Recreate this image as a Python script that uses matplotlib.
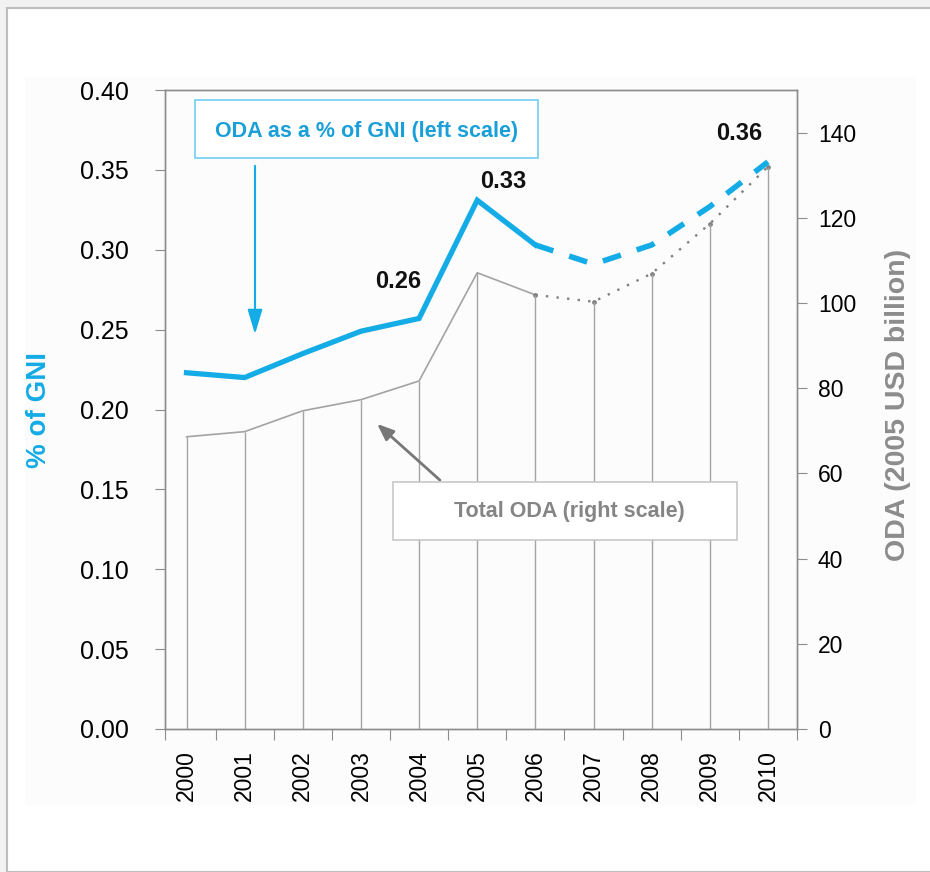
import matplotlib.pyplot as plt
from matplotlib.patches import Rectangle

years = ['2000', '2001', '2002', '2003', '2004', '2005', '2006', '2007', '2008', '2009', '2010']
oda_gni = [0.223, 0.220, 0.235, 0.249, 0.257, 0.331, 0.303, 0.291, 0.303, 0.327, 0.355]
oda_total = [68.6, 69.8, 74.7, 77.3, 81.7, 107.1, 101.9, 100.3, 106.9, 118.6, 132.0]
labels = {4: '0.26', 5: '0.33', 10: '0.36'}
last_actual = 6  # 2006, after this the lines are projections

BLUE = '#13ACE6'
GRAY = '#A3A3A3'
W, H = 930, 872

plt.rcParams['font.family'] = ['Liberation Sans', 'DejaVu Sans']


def fx(px):
    return px / W


def fy(py):
    return 1 - py / H


def main():
    fig = plt.figure(figsize=(W / 100, H / 100), dpi=100, facecolor='#F2F2F2')

    # white slide panel
    fig.patches.append(Rectangle((fx(7), 0), 1, fy(8), transform=fig.transFigure,
                                 facecolor='white', edgecolor='#BDBDBD', lw=1.5,
                                 zorder=-3))
    fig.patches.append(Rectangle((fx(25), fy(805)), fx(891), fy(77) - fy(805),
                                 transform=fig.transFigure, facecolor='#FCFCFC',
                                 edgecolor='none', zorder=-2))

    ax = fig.add_axes([fx(165), fy(729), fx(797 - 165), fy(90) - fy(729)])
    ax.set_facecolor('none')
    ax2 = ax.twinx()

    x = list(range(len(years)))
    n = last_actual + 1

    # total ODA, right scale
    ax2.plot(x[:n], oda_total[:n], color=GRAY, lw=1.2)
    ax2.plot(x[last_actual:], oda_total[last_actual:], color='#808080', lw=1.7,
             linestyle=(0, (1, 3.5)))
    ax2.plot(x[last_actual:], oda_total[last_actual:], 'o', color='#808080', ms=2.4)
    ax2.vlines(x, 0, oda_total, color=GRAY, lw=1.0)
    ax2.set_ylim(0, 150)
    ax2.set_yticks(range(0, 141, 20))

    # ODA as % of GNI, left scale
    ax.plot(x[:n], oda_gni[:n], color=BLUE, lw=3.8, solid_joinstyle='miter')
    ax.plot(x[last_actual:], oda_gni[last_actual:], color=BLUE, lw=4.0,
            dashes=(3.4, 3.0))
    ax.set_ylim(0, 0.40)
    ax.set_yticks([i * 0.05 for i in range(9)])
    ax.set_yticklabels([f'{i * 0.05:.2f}' for i in range(9)])
    ax.set_zorder(ax2.get_zorder() + 1)

    offsets = {4: (-21, 37), 5: (26, 19), 10: (-29, 28)}
    for i, txt in labels.items():
        ax.annotate(txt, (x[i], oda_gni[i]), xytext=offsets[i], textcoords='offset pixels',
                    ha='center', va='center', fontsize=17, fontweight='bold',
                    color='#111111')

    ax.set_xlim(-0.37, 10.5)
    ax.set_xticks([-0.37] + [k + 0.5 for k in range(11)])
    ax.set_xticklabels([])
    ax.set_xticks(x, minor=True)
    ax.set_xticklabels(years, minor=True, rotation=90, fontsize=16.5)
    ax.tick_params(axis='x', which='minor', length=0, pad=15)
    ax.tick_params(axis='x', which='major', length=8, color='#8C8C8C', direction='out')
    ax.tick_params(axis='y', length=7, color='#8C8C8C', labelsize=18, pad=19)
    ax2.tick_params(axis='y', length=7, color='#8C8C8C', labelsize=16.5, pad=8)

    for a in (ax, ax2):
        for s in a.spines.values():
            s.set_color('#8C8C8C')
            s.set_linewidth(1.0)

    fig.text(fx(39), fy(410), '% of GNI', rotation=90, ha='center', va='center',
             color=BLUE, fontsize=20, fontweight='bold')
    fig.text(fx(898), fy(405), 'ODA (2005 USD billion)', rotation=90, ha='center',
             va='center', color='#8C8C8C', fontsize=20.5, fontweight='bold')

    # callout boxes
    fig.patches.append(Rectangle((fx(195), fy(158)), fx(343), fy(100) - fy(158),
                                 transform=fig.transFigure, facecolor='white',
                                 edgecolor='#6FD0F2', lw=1.2, zorder=5))
    fig.text(fx(367), fy(131), 'ODA as a % of GNI (left scale)', ha='center', va='center',
             color='#1B9FD9', fontsize=15.5, fontweight='bold', zorder=6)
    fig.patches.append(Rectangle((fx(393), fy(540)), fx(344), fy(482) - fy(540),
                                 transform=fig.transFigure, facecolor='white',
                                 edgecolor='#C8C8C8', lw=1.2, zorder=5))
    fig.text(fx(569), fy(511), 'Total ODA (right scale)', ha='center', va='center',
             color='#858585', fontsize=15.5, fontweight='bold', zorder=6)

    ax.annotate('', xy=(fx(255), fy(337)), xytext=(fx(255), fy(163)),
                xycoords='figure fraction', textcoords='figure fraction',
                arrowprops=dict(arrowstyle='-|>,head_length=1.5,head_width=0.45',
                                color=BLUE, lw=1.5))
    ax.annotate('', xy=(fx(375), fy(422)), xytext=(fx(442), fy(482)),
                xycoords='figure fraction', textcoords='figure fraction',
                arrowprops=dict(arrowstyle='-|>,head_length=1.0,head_width=0.4',
                                color='#777777', lw=2.0))

    fig.savefig('out.png', dpi=100, facecolor=fig.get_facecolor())


if __name__ == '__main__':
    main()
